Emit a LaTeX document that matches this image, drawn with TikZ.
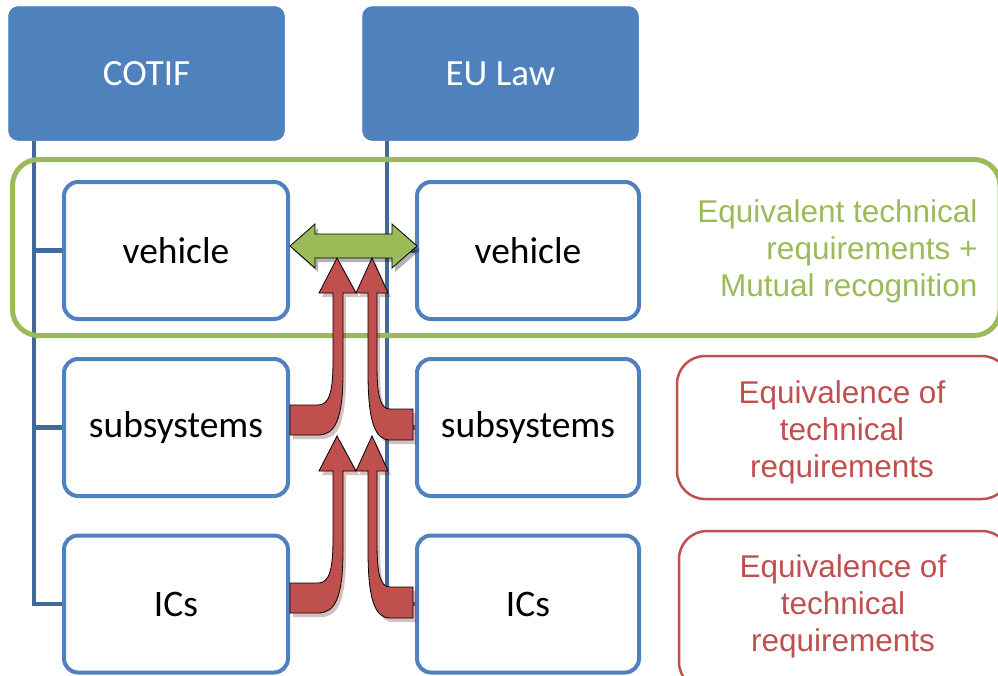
\documentclass[tikz,border=0pt]{standalone}
\usepackage{fontspec}
\setmainfont{Carlito}
\newfontfamily\arialf{Liberation Sans}
\usetikzlibrary{backgrounds}
\definecolor{hdrblue}{HTML}{4F81BD}
\definecolor{lineblue}{HTML}{3E6A9E}
\definecolor{grn}{HTML}{9BBB59}
\definecolor{redc}{HTML}{C0504D}
\tikzset{
  hdr/.style={rectangle, rounded corners=10pt, fill=hdrblue, draw=hdrblue, line width=0.5pt,
    minimum width=276pt, minimum height=134pt, text=white, font=\fontsize{37}{42}\selectfont},
  itembox/.style={rectangle, rounded corners=14pt, draw=hdrblue, fill=white, line width=4pt,
    minimum height=137pt, font=\fontsize{37.5}{42}\selectfont},
  tree/.style={draw=lineblue, line width=4.5pt},
  redbox/.style={draw=redc, line width=2.5pt, rounded corners=28pt},
  redtxt/.style={text=redc, align=center, font=\arialf\fontsize{31.5}{37}\selectfont},
  grntxt/.style={text=grn, align=right, font=\arialf\fontsize{31.5}{37}\selectfont},
  arrfill/.style={line width=0.8pt, draw=black},
  shadowf/.style={fill opacity=0.3, draw=none},
}
\begin{document}
\begin{tikzpicture}[x=1pt,y=-1pt]
\useasboundingbox (0,0) rectangle (998,675);
% headers
\node[hdr] (cotif) at (146.5,73.5) {COTIF};
\node[hdr] (eulaw) at (500.5,73.5) {EU Law};
% tree anchor coordinates
\coordinate (lt) at (34,141);
\coordinate (rt) at (387,141);
% items
\node[itembox, minimum width=224pt] (veh1) at (176,250.5) {vehicle};
\node[itembox, minimum width=224pt] (sub1) at (176,427.5) {subsystems};
\node[itembox, minimum width=224pt] (ics1) at (176,604) {ICs};
\node[itembox, minimum width=222pt] (veh2) at (528,250.5) {vehicle};
\node[itembox, minimum width=222pt] (sub2) at (528,427.5) {subsystems};
\node[itembox, minimum width=222pt] (ics2) at (528,604) {ICs};
% tree connectors
\begin{scope}[on background layer]
\draw[tree] (lt) |- (ics1.west);
\draw[tree] (lt) |- (veh1.west);
\draw[tree] (lt) |- (sub1.west);
\draw[tree] (rt) |- (ics2.west);
\draw[tree] (rt) |- (veh2.west);
\draw[tree] (rt) |- (sub2.west);
\end{scope}
% green group
\draw[grn, line width=5pt, rounded corners=26pt] (12.5,159.5) rectangle (1000,335.5);
\node[grntxt, anchor=east] (gtxt) at (981,251) {Equivalent technical\\requirements +\\Mutual recognition};
% red boxes
\draw[redbox] (677,356) rectangle (1010,499);
\node[redtxt] (rtxt1) at (842,432) {Equivalence of\\technical\\requirements};
\draw[redbox] (679,531) rectangle (1010,690);
\node[redtxt] (rtxt2) at (843,606) {Equivalence of\\technical\\requirements};
% green double arrow
\def\garrow{(290,246) -- (315,224) -- (315,234) -- (392,234) -- (392,224) -- (417,246) -- (392,268) -- (392,258) -- (315,258) -- (315,268) -- cycle}
\fill[shadowf, fill=black, shift={(3,4)}] \garrow;
\filldraw[arrfill, fill=grn] \garrow;
% red arrows
\def\larrow{(290,405) -- (318,405) .. controls (330,405) and (333,390) .. (333,360) -- (333,293) -- (319,293) -- (337,258) -- (356,293) -- (343,293) -- (343,372) .. controls (343,420) and (335,435) .. (318,435) -- (290,435) -- cycle}
\def\rarrow{(413,409) -- (390,409) .. controls (380,409) and (377,395) .. (377,365) -- (377,293) -- (388,293) -- (372,258) -- (356,293) -- (368,293) -- (368,372) .. controls (368,422) and (375,440) .. (390,440) -- (413,440) -- cycle}
\foreach \dy in {0,178}{
  \begin{scope}[shift={(0,\dy)}]
    \fill[shadowf, shift={(3,4)}, fill=redc!60!black] \rarrow;
    \filldraw[arrfill, fill=redc] \rarrow;
    \fill[shadowf, shift={(3,4)}, fill=redc!60!black] \larrow;
    \filldraw[arrfill, fill=redc] \larrow;
  \end{scope}
}
\end{tikzpicture}
\end{document}
